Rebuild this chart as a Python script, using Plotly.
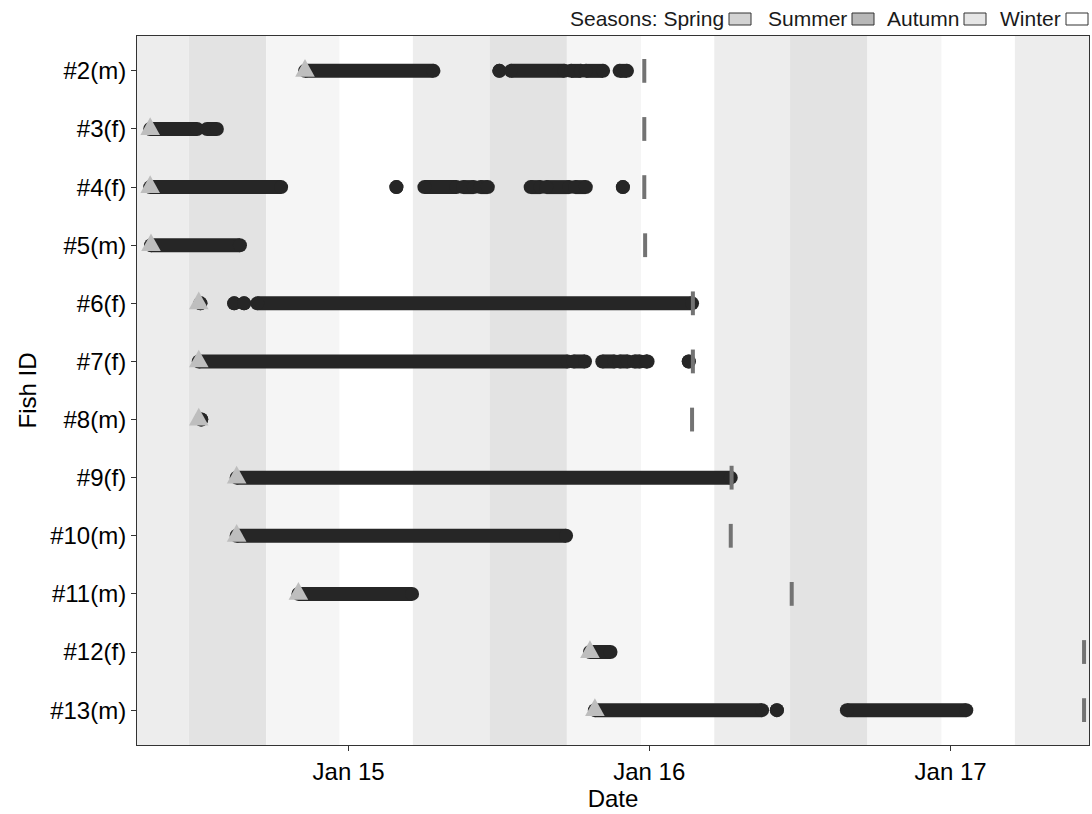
import plotly.graph_objects as go

# ---- data -----------------------------------------------------------------
fish_ids = ["#2(m)", "#3(f)", "#4(f)", "#5(m)", "#6(f)", "#7(f)", "#8(m)",
            "#9(f)", "#10(m)", "#11(m)", "#12(f)", "#13(m)"]

# tagging / release day of each fish (triangles)
release_dates = ["2014-11-09", "2014-05-05", "2014-05-05", "2014-05-06",
                 "2014-07-03", "2014-07-03", "2014-07-03", "2014-08-18",
                 "2014-08-18", "2014-11-01", "2015-10-21", "2015-10-27"]

# expected end of tag battery life (grey bars)
tag_end_dates = ["2015-12-26", "2015-12-26", "2015-12-26", "2015-12-27",
                 "2016-02-23", "2016-02-23", "2016-02-22", "2016-04-10",
                 "2016-04-09", "2016-06-22", "2017-06-12", "2017-06-12"]

# detection periods (first day, last day) per fish
det_2 = [("2014-11-09", "2015-04-14"), ("2015-07-03", "2015-07-03"),
         ("2015-07-17", "2015-09-20"), ("2015-09-28", "2015-10-10"),
         ("2015-10-16", "2015-11-06"), ("2015-11-26", "2015-12-05")]
det_3 = [("2014-05-05", "2014-07-01"), ("2014-07-13", "2014-07-25")]
det_4 = [("2014-05-05", "2014-10-11"), ("2015-02-28", "2015-02-28"),
         ("2015-04-03", "2015-05-12"), ("2015-05-20", "2015-06-02"),
         ("2015-06-10", "2015-06-19"), ("2015-08-10", "2015-08-22"),
         ("2015-08-29", "2015-09-26"), ("2015-10-03", "2015-10-16"),
         ("2015-11-30", "2015-11-30")]
det_5 = [("2014-05-06", "2014-08-22")]
det_6 = [("2014-07-05", "2014-07-05"), ("2014-08-15", "2014-08-15"),
         ("2014-08-27", "2014-08-27"), ("2014-09-12", "2016-02-22")]
det_7 = [("2014-07-03", "2015-09-24"), ("2015-10-01", "2015-10-15"),
         ("2015-11-05", "2015-11-20"), ("2015-11-26", "2015-12-06"),
         ("2015-12-14", "2015-12-21"), ("2015-12-28", "2015-12-30"),
         ("2016-02-18", "2016-02-18")]
det_8 = [("2014-07-06", "2014-07-06")]
det_9 = [("2014-08-18", "2016-04-09")]
det_10 = [("2014-08-18", "2015-09-22")]
det_11 = [("2014-11-01", "2015-03-19")]
det_12 = [("2015-10-21", "2015-11-15")]
det_13 = [("2015-10-27", "2016-05-17"), ("2016-06-04", "2016-06-04"),
          ("2016-08-28", "2017-01-20")]

detections = [det_2, det_3, det_4, det_5, det_6, det_7, det_8,
              det_9, det_10, det_11, det_12, det_13]

# astronomical seasons
season_names = ["Spring", "Summer", "Autumn", "Winter"]
season_starts = ["2014-03-20", "2014-06-21", "2014-09-23", "2014-12-21",
                 "2015-03-20", "2015-06-21", "2015-09-23", "2015-12-22",
                 "2016-03-20", "2016-06-20", "2016-09-22", "2016-12-21",
                 "2017-03-20", "2017-06-21"]
season_labels = ["Spring", "Summer", "Autumn", "Winter",
                 "Spring", "Summer", "Autumn", "Winter",
                 "Spring", "Summer", "Autumn", "Winter",
                 "Spring", "Summer"]

x_range = ["2014-04-19", "2017-06-18"]
x_ticks = ["2015-01-01", "2016-01-01", "2017-01-01"]

# ---- styling ----------------------------------------------------------------
FONT = "Liberation Sans, Arial, sans-serif"
DET_COLOR = "#262626"
REL_COLOR = "#bebebe"
END_COLOR = "#737373"
FRAME = "#333333"
band_fill = {"Spring": "#ededed", "Summer": "#e3e3e3",
             "Autumn": "#f5f5f5", "Winter": "#ffffff"}
key_fill = {"Spring": "#d3d3d3", "Summer": "#b8b8b8",
            "Autumn": "#e6e6e6", "Winter": "#ffffff"}

W, H = 1092, 814
L, R, T, B = 137, 3, 36, 69
plot_w, plot_h = W - L - R, H - T - B


def px_x(px):
    return (px - L) / plot_w


def px_y(py):
    return (H - B - py) / plot_h


fig = go.Figure()

# detections: thick segments with round ends made by end markers
xs, ys = [], []
for i, periods in enumerate(detections):
    for start, end in periods:
        xs += [start, end, None]
        ys += [i, i, None]
fig.add_trace(go.Scatter(
    x=xs, y=ys, mode="lines+markers", connectgaps=False,
    line=dict(color=DET_COLOR, width=14),
    marker=dict(color=DET_COLOR, size=14, line=dict(width=0)),
    hoverinfo="skip", showlegend=False))

# tag end markers
fig.add_trace(go.Scatter(
    x=tag_end_dates, y=list(range(len(fish_ids))), mode="markers",
    marker=dict(symbol="line-ns", size=17,
                line=dict(width=4, color=END_COLOR)),
    hoverinfo="skip", showlegend=False))

shapes = []
# season background bands
for k in range(len(season_starts) - 1):
    shapes.append(dict(
        type="rect", xref="x", yref="paper",
        x0=season_starts[k], x1=season_starts[k + 1], y0=0, y1=1,
        fillcolor=band_fill[season_labels[k]], line=dict(width=0),
        layer="below"))

# release triangles (equilateral, sized in pixels, anchored at the data)
tri_path = "M -9.8 -5.9 L 9.8 -5.9 L 0 11.8 Z"
for i, d in enumerate(release_dates):
    shapes.append(dict(
        type="path", xref="x", yref="y", xsizemode="pixel",
        ysizemode="pixel", xanchor=d, yanchor=i, path=tri_path,
        fillcolor=REL_COLOR, line=dict(width=0), layer="above"))

# season key above the panel
annotations = []
key_text = ["Seasons: Spring", "Summer", "Autumn", "Winter"]
key_box_left = [729, 852, 964, 1066]
for name, txt, bx in zip(season_names, key_text, key_box_left):
    annotations.append(dict(
        xref="paper", yref="paper", x=px_x(bx - 3), y=px_y(18),
        xanchor="right", yanchor="middle", text=txt, showarrow=False,
        font=dict(family=FONT, size=21, color="#1a1a1a")))
    shapes.append(dict(
        type="rect", xref="paper", yref="paper",
        x0=px_x(bx), x1=px_x(bx + 22), y0=px_y(25), y1=px_y(13),
        fillcolor=key_fill[name], line=dict(width=1, color="#333333")))

axis_common = dict(
    showline=True, mirror=True, linecolor=FRAME, linewidth=1,
    ticks="outside", ticklen=5, tickwidth=1, tickcolor=FRAME,
    showgrid=False, zeroline=False,
    tickfont=dict(family=FONT, size=24, color="#000000"),
)

fig.update_layout(
    width=W, height=H,
    margin=dict(l=L, r=R, t=T, b=B),
    paper_bgcolor="white", plot_bgcolor="white",
    font=dict(family=FONT, color="#000000"),
    shapes=shapes, annotations=annotations,
    showlegend=False,
    xaxis=dict(
        type="date", range=x_range, tickvals=x_ticks, tickformat="%b %y",
        title=dict(text="Date", font=dict(family=FONT, size=24),
                   standoff=4),
        **axis_common),
    yaxis=dict(
        range=[len(fish_ids) - 0.4, -0.6],
        tickvals=list(range(len(fish_ids))), ticktext=fish_ids,
        title=dict(text="Fish ID", font=dict(family=FONT, size=24),
                   standoff=6),
        **axis_common),
)

fig.write_html("out.html")
